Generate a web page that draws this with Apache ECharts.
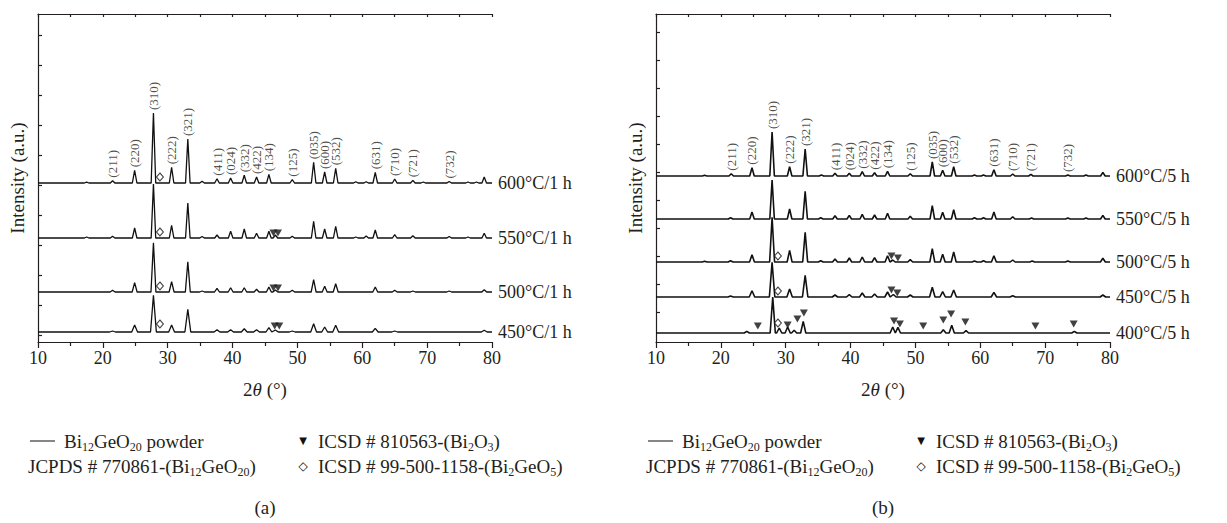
<!DOCTYPE html>
<html><head><meta charset="utf-8">
<script src="https://cdn.jsdelivr.net/npm/echarts@6/dist/echarts.min.js"></script>
<style>html,body{margin:0;padding:0;background:#fff}#c{width:1227px;height:523px}</style>
</head><body><div id="c"></div>
<script>
// ---------- DATA (2θ in degrees, intensity in a.u. above each trace's own baseline) ----------
const xTicks = [10, 20, 30, 40, 50, 60, 70, 80];
const yTicksA = [7, 37, 67, 97, 127, 157, 187, 217, 247, 277, 307];
const yTicksB = [30, 58, 86, 114, 142, 170, 198, 226, 254, 282, 310];

// panel (a) – 1 h anneals : [2θ, peak height]
const a600 = [[17.5,0.8],[21.5,2.3],[24.9,12.7],[27.8,70],[30.6,15.7],[33.1,44],[35.3,1.7],[37.6,4.3],[39.7,5],[41.8,7.7],[43.7,6],[45.6,8.7],[49.2,3.3],[52.5,20.7],[54.2,11],[55.9,14.7],[59.0,1.3],[60.6,1.3],[62.0,10.7],[65.0,4],[67.8,2.7],[69.4,1],[73.4,1.5],[76.3,1],[77.6,1],[78.8,6]];
const a550 = [[17.5,1],[21.5,1.7],[24.9,10],[27.8,54],[30.6,12.7],[33.1,35],[35.3,1.5],[37.6,3],[39.7,6.7],[41.8,9],[43.7,4.7],[45.6,6.7],[46.6,3],[49.2,1.7],[52.5,16.7],[54.2,9],[55.9,11.7],[59.0,1],[60.6,2],[62.0,8],[65.0,3.3],[67.8,2.3],[73.4,1.5],[76.3,1],[78.8,4.7]];
const a500 = [[21.5,1.7],[24.9,9.3],[27.8,49.3],[30.6,10.3],[33.1,30.3],[35.3,1],[37.6,3.7],[39.7,4.3],[41.8,4.3],[43.7,2.7],[45.6,5],[46.6,2],[49.2,1.7],[52.5,12.3],[54.2,5.7],[55.9,8.3],[62.0,5],[65.0,1.7],[67.8,1],[73.4,1],[78.8,2.3]];
const a450 = [[21.5,1],[24.9,7],[27.8,36.7],[30.6,7],[33.1,22.7],[37.6,2.3],[39.7,2.3],[41.8,3.3],[43.7,2.3],[45.6,4.3],[46.6,2],[49.2,1],[52.5,8.3],[54.2,5],[55.9,6.7],[62.0,3.7],[65.0,1],[78.8,1.7]];

// panel (b) – 5 h anneals
const b600 = [[17.5,0.8],[21.6,2.3],[24.8,8.3],[27.9,44],[30.6,9.3],[33.0,27],[35.5,1],[37.6,2.7],[39.8,2.7],[41.8,4.3],[43.7,3.3],[45.7,4.7],[49.2,2.3],[52.6,14],[54.2,5.7],[55.9,9.3],[59.1,1],[60.5,1],[62.1,6.3],[65.0,2],[67.8,1.7],[73.5,1],[76.3,1],[78.9,3.7]];
const b550 = [[21.5,1.3],[24.8,7],[27.9,39],[30.6,10],[33.0,27.7],[35.4,1.3],[37.6,3.3],[39.8,3.7],[41.8,4.7],[43.7,4],[45.7,5.7],[49.2,2.7],[52.6,13.3],[54.2,6.7],[55.9,9.3],[59.1,1.3],[60.5,1.3],[62.1,7],[65.0,2.3],[67.9,1],[73.5,1],[76.3,1],[78.9,3.7]];
const b500 = [[17.5,0.8],[21.5,1.3],[24.8,7.3],[27.9,44.7],[30.6,11.7],[33.0,29.7],[35.4,1.3],[37.6,3],[39.8,4],[41.8,5],[43.7,4.3],[45.7,6.3],[46.5,2],[49.2,2.3],[52.6,13.3],[54.2,7.7],[55.9,10],[59.1,1],[60.5,1.3],[62.1,6.3],[65.0,2],[68.0,1],[73.5,1],[78.9,3.7]];
const b450 = [[21.5,1],[24.8,6.3],[27.9,34.7],[30.6,8],[33.0,21.7],[37.6,2],[39.8,2.3],[41.8,4],[43.7,3],[45.7,5],[46.6,2.5],[49.2,2],[52.6,9.7],[54.2,5.3],[55.9,7],[62.1,4.7],[65.0,1.3],[78.9,2]];
const b400 = [[24.0,1.7],[28.0,36],[29.0,5],[30.3,6],[31.3,2.7],[32.7,11.7],[46.5,6],[47.3,5.7],[54.3,3.3],[55.6,7.7],[57.8,2.3],[74.5,1.7]];

// Miller indices labelled on the top trace: [label, 2θ]
const hklA = [['(211)',21.5],['(220)',24.9],['(310)',27.8],['(222)',30.6],['(321)',33.1],['(411)',37.6],['(024)',39.7],['(332)',41.8],['(422)',43.7],['(134)',45.6],['(125)',49.2],['(035)',52.5],['(600)',54.2],['(532)',55.9],['(631)',62.0],['(710)',65.0],['(721)',67.8],['(732)',73.4]];
const hklB = [['(211)',21.6],['(220)',24.8],['(310)',27.9],['(222)',30.6],['(321)',33.0],['(411)',37.6],['(024)',39.8],['(332)',41.8],['(422)',43.7],['(134)',45.7],['(125)',49.2],['(035)',52.6],['(600)',54.2],['(532)',55.9],['(631)',62.1],['(710)',65.0],['(721)',67.8],['(732)',73.5]];

// phase markers: [2θ, height above baseline]
const triA550 = [[46.3,5],[47.0,5]];
const triA500 = [[46.3,4],[47.0,4]];
const triA450 = [[46.5,6],[47.2,6]];
const diaA600 = [[28.8,6]], diaA550 = [[28.8,6]], diaA500 = [[28.8,6]], diaA450 = [[28.8,8]];
const triB500 = [[46.3,6],[47.3,4]];
const triB450 = [[46.3,7],[47.2,4]];
const triB400 = [[25.7,7],[30.3,8],[31.8,14],[32.8,20],[46.7,12],[47.6,9],[51.2,7],[54.3,13],[55.5,19],[57.7,11],[68.5,7],[74.4,9]];
const diaB500 = [[28.8,6]], diaB450 = [[28.8,6]], diaB400 = [[28.8,10]];

// ---------- CHART ----------
const FONT = '"Liberation Serif","Times New Roman",serif';
const INK = '#231f20';

function trace(peaks, w) {
  const pts = [[10, 0]];
  peaks.forEach(p => { pts.push([p[0] - w, 0], [p[0], p[1]], [p[0] + w, 0]); });
  pts.push([80, 0]);
  pts.sort((a, b) => a[0] - b[0]);
  return pts;
}
function shift(pts, off) { return pts.map(p => [p[0], p[1] + off]); }

const panels = [
  { grid: 0, yTicks: yTicksA, lw: 1.3, traces: [
      { name: '600°C/1 h', peaks: a600, off: 159, w: 0.35, tri: [], dia: diaA600, hkl: hklA },
      { name: '550°C/1 h', peaks: a550, off: 104, w: 0.35, tri: triA550, dia: diaA550 },
      { name: '500°C/1 h', peaks: a500, off: 50, w: 0.38, tri: triA500, dia: diaA500 },
      { name: '450°C/1 h', peaks: a450, off: 10, w: 0.45, tri: triA450, dia: diaA450 } ] },
  { grid: 1, yTicks: yTicksB, lw: 1.6, traces: [
      { name: '600°C/5 h', peaks: b600, off: 166, w: 0.35, tri: [], dia: [], hkl: hklB },
      { name: '550°C/5 h', peaks: b550, off: 123, w: 0.35, tri: [], dia: [] },
      { name: '500°C/5 h', peaks: b500, off: 80, w: 0.38, tri: triB500, dia: diaB500 },
      { name: '450°C/5 h', peaks: b450, off: 45, w: 0.42, tri: triB450, dia: diaB450 },
      { name: '400°C/5 h', peaks: b400, off: 9, w: 0.4, tri: triB400, dia: diaB400 } ] }
];

const grids = [
  { left: 38, top: 14, width: 454, height: 328 },
  { left: 656, top: 14, width: 454, height: 328 }
];
const xAxes = [], yAxes = [], series = [];
panels.forEach((P, gi) => {
  const ls = { color: INK, width: 1.2 };
  xAxes.push({ gridIndex: gi, type: 'value', min: 10, max: 80, interval: 10, position: 'bottom',
    axisLine: { onZero: false, lineStyle: ls }, axisTick: { length: 6, lineStyle: ls },
    minorTick: { show: true, splitNumber: 2, length: 4, lineStyle: ls },
    splitLine: { show: false }, minorSplitLine: { show: false },
    axisLabel: { fontFamily: FONT, fontSize: 18, color: INK, margin: 7,
      customValues: xTicks },
    name: '2{i|θ} (°)', nameLocation: 'middle', nameGap: 38,
    nameTextStyle: { fontFamily: FONT, fontSize: 19, color: INK,
      rich: { i: { fontFamily: FONT, fontSize: 19, fontStyle: 'italic', color: INK } } } });
  xAxes.push({ gridIndex: gi, type: 'value', min: 10, max: 80, interval: 5, position: 'top',
    axisLine: { onZero: false, lineStyle: ls }, axisTick: { inside: true, length: 3, lineStyle: ls },
    axisLabel: { show: false }, splitLine: { show: false } });
  yAxes.push({ gridIndex: gi, type: 'value', min: 0, max: 328,
    axisLine: { show: true, onZero: false, lineStyle: ls },
    axisTick: { show: true, inside: true, length: 4, lineStyle: ls, customValues: P.yTicks },
    axisLabel: { show: false }, splitLine: { show: false },
    name: 'Intensity (a.u.)', nameLocation: 'middle', nameGap: 11,
    nameTextStyle: { fontFamily: FONT, fontSize: 19, color: INK } });

  P.traces.forEach(T => {
    series.push({ type: 'line', xAxisIndex: gi * 2, yAxisIndex: gi, data: shift(trace(T.peaks, T.w), T.off),
      showSymbol: false, symbol: 'none', silent: true, animation: false,
      lineStyle: { color: '#111', width: P.lw },
      endLabel: { show: true, formatter: T.name, fontFamily: FONT, fontSize: 18, color: INK, distance: 6 } });
    if (T.tri.length) series.push({ type: 'scatter', xAxisIndex: gi * 2, yAxisIndex: gi,
      data: shift(T.tri, T.off), symbol: 'triangle', symbolRotate: 180, symbolSize: [8, 7],
      itemStyle: { color: '#111' }, silent: true, animation: false, z: 5 });
    if (T.dia.length) series.push({ type: 'scatter', xAxisIndex: gi * 2, yAxisIndex: gi,
      data: shift(T.dia, T.off), symbol: 'diamond', symbolSize: [7, 8],
      itemStyle: { color: '#fff', borderColor: '#111', borderWidth: 1 }, silent: true, animation: false, z: 5 });
    if (T.hkl) series.push({ type: 'scatter', xAxisIndex: gi * 2, yAxisIndex: gi,
      data: T.hkl.map(([lab, pos]) => {
        const pk = T.peaks.find(p => p[0] === pos);
        return { name: lab, value: [pos, T.off + pk[1]] };
      }),
      symbolSize: 0, silent: true, animation: false, z: 6,
      label: { show: true, position: 'top', distance: 3, rotate: 90, align: 'left', verticalAlign: 'middle',
        formatter: p => p.name, fontFamily: FONT, fontSize: 13, color: INK } });
  });
});

// legend / caption as real text
const sub = { fontFamily: FONT, fontSize: 12, lineHeight: 12, verticalAlign: 'bottom', fill: INK };
function txt(x, y, text, align) {
  return { type: 'text', x: x, y: y, silent: true,
    style: { text: text, font: '19px ' + FONT, fill: INK, lineHeight: 24, align: align || 'left', verticalAlign: 'middle',
      rich: { s: sub } } };
}
const graphics = [];
[0, 618].forEach((dx, k) => {
  graphics.push({ type: 'line', silent: true, shape: { x1: 30 + dx, y1: 441, x2: 55 + dx, y2: 441 },
    style: { stroke: '#444', lineWidth: 1.3 } });
  graphics.push(txt(64 + dx, 441, 'Bi{s|12}GeO{s|20} powder'));
  graphics.push({ type: 'text', x: 303 + dx, y: 440, silent: true,
    style: { text: '▼', font: '10px "DejaVu Sans"', fill: '#111', align: 'center', verticalAlign: 'middle' } });
  graphics.push(txt(318 + dx, 441, 'ICSD # 810563-(Bi{s|2}O{s|3})'));
  graphics.push(txt(28 + dx, 466, 'JCPDS # 770861-(Bi{s|12}GeO{s|20})'));
  graphics.push({ type: 'text', x: 303 + dx, y: 466, silent: true,
    style: { text: '◇', font: '12px "DejaVu Sans"', fill: '#111', align: 'center', verticalAlign: 'middle' } });
  graphics.push(txt(318 + dx, 466, 'ICSD # 99-500-1158-(Bi{s|2}GeO{s|5})'));
  graphics.push(txt(265 + dx, 507, k === 0 ? '(a)' : '(b)', 'center'));
});

const chart = echarts.init(document.getElementById('c'), null, { renderer: 'svg', width: 1227, height: 523 });
chart.setOption({
  animation: false,
  backgroundColor: '#fff',
  grid: grids,
  xAxis: xAxes,
  yAxis: yAxes,
  series: series,
  graphic: graphics
});
</script>
</body></html>
